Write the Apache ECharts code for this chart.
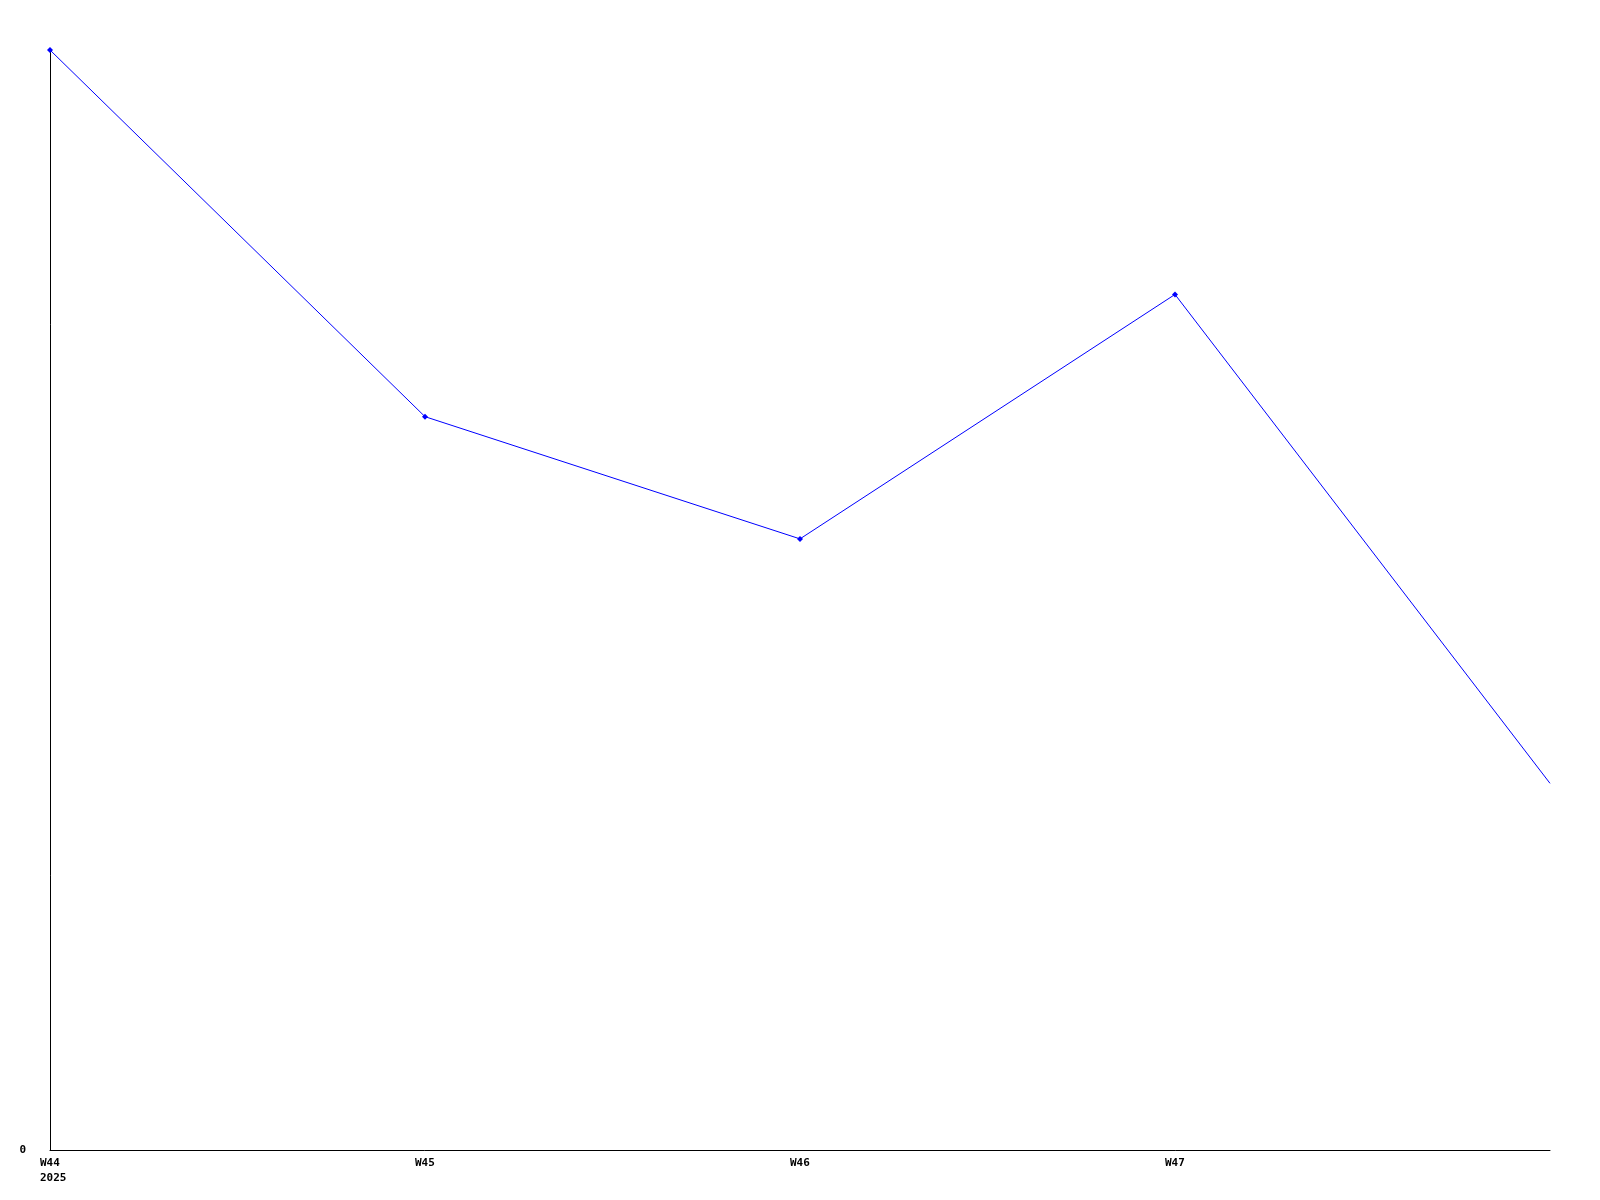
<!DOCTYPE html>
<html>
<head>
<meta charset="utf-8">
<script src="https://cdn.jsdelivr.net/npm/echarts@6/dist/echarts.min.js"></script>
<style>html,body{margin:0;padding:0;background:#fff;}#c{width:1600px;height:1200px;}</style>
</head>
<body>
<div id="c"></div>
<script>
var categories = ['W44\n2025', 'W45', 'W46', 'W47', ''];
var values = [9, 6, 5, 7, 3];
var yMax = 9;

var chart = echarts.init(document.getElementById('c'), null, {renderer: 'canvas'});
var font = 'DejaVu Sans Mono';
chart.setOption({
  backgroundColor: '#ffffff',
  animation: false,
  grid: {left: 50, right: 50, top: 50, bottom: 50, containLabel: false},
  xAxis: {
    type: 'category',
    data: categories,
    boundaryGap: false,
    axisLine: {lineStyle: {color: '#000', width: 1}},
    axisTick: {show: false},
    splitLine: {show: false},
    axisLabel: {
      color: '#000', fontFamily: font, fontWeight: 'bold', fontSize: 11,
      lineHeight: 15, margin: 6, align: 'left', padding: [0, 0, 0, -10]
    }
  },
  yAxis: {
    type: 'value',
    min: 0, max: yMax, interval: yMax,
    axisLine: {show: true, lineStyle: {color: '#000', width: 1}},
    axisTick: {show: false},
    splitLine: {show: false},
    axisLabel: {
      showMaxLabel: false,
      color: '#000', fontFamily: font, fontWeight: 'bold', fontSize: 11, margin: 24
    }
  },
  series: [{
    type: 'line',
    data: values.map(function (v, i) { return i === values.length - 1 ? {value: v, symbol: 'none'} : v; }),
    symbol: 'diamond',
    symbolSize: 6,
    showAllSymbol: true,
    lineStyle: {color: '#0000ff', width: 1},
    itemStyle: {color: '#0000ff'},
    clip: false
  }]
});
</script>
</body>
</html>
